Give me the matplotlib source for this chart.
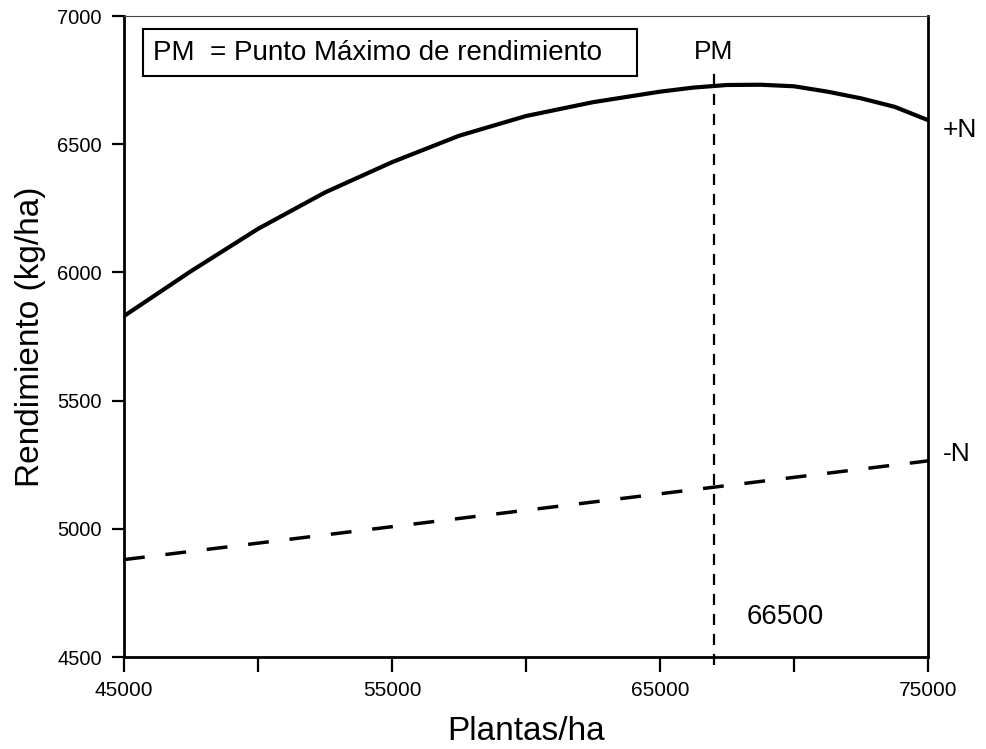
#!/bin/python3

# Libraries
import matplotlib.pyplot as plt
from matplotlib.patches import Rectangle

plt.rcParams['font.family'] = ['Liberation Sans', 'DejaVu Sans']

# Data
plantas = [45000, 47500, 50000, 52500, 55000, 57500, 60000, 62500,
           65000, 66250, 67500, 68750, 70000, 71250, 72500, 73750, 75000]
rend_con_n = [5830, 6005, 6170, 6312, 6430, 6533, 6610, 6664,
              6705, 6721, 6731, 6732, 6726, 6705, 6679, 6646, 6594]

plantas_sin_n = [45000, 75000]
rend_sin_n = [4880, 5265]

pm_x = 67000          # position of the vertical line on the plot
pm_top = 6778
pm_label = '66500'

x_ticks = [45000, 50000, 55000, 60000, 65000, 70000, 75000]
x_tick_labels = ['45000', '', '55000', '', '65000', '', '75000']
y_ticks = [4500, 5000, 5500, 6000, 6500, 7000]

####################################################################################################
# Line Plot
####################################################################################################

fig, ax = plt.subplots(figsize=(9.86, 7.49), dpi=100)
fig.subplots_adjust(left=0.1258, right=0.9412, bottom=0.1228, top=0.9786)

ax.plot(plantas, rend_con_n, color='black', linewidth=3.0,
        solid_capstyle='butt', solid_joinstyle='round')
ax.plot(plantas_sin_n, rend_sin_n, color='black', linewidth=2.5,
        dashes=(6.0, 6.0), dash_capstyle='butt')
ax.plot([pm_x, pm_x], [4470, pm_top], color='black', linewidth=1.6,
        dashes=(5, 4), clip_on=False)

ax.set(xlim=(45000, 75000), ylim=(4500, 7000))
ax.set_xticks(x_ticks)
ax.set_xticklabels(x_tick_labels, fontsize=15)
ax.set_yticks(y_ticks)
ax.set_yticklabels([str(v) for v in y_ticks], fontsize=14.5)
ax.tick_params(axis='x', direction='out', length=11, width=1.6, pad=6)
ax.tick_params(axis='y', direction='out', length=9, width=1.6, pad=7)

for side in ['left', 'bottom', 'right']:
    ax.spines[side].set_linewidth(2.0)
ax.spines['top'].set_linewidth(0.8)
ax.spines['top'].set_color('#444444')

ax.set_xlabel('Plantas/ha', fontsize=24, labelpad=12)
ax.set_ylabel('Rendimiento (kg/ha)', fontsize=24, labelpad=8)

# legend box
ax.add_patch(Rectangle((0.0236, 0.906), 0.6144, 0.0733, transform=ax.transAxes,
                       fill=False, edgecolor='black', linewidth=1.5))
ax.text(0.036, 0.942, 'PM  = Punto Máximo de rendimiento', transform=ax.transAxes,
        fontsize=20, va='center', ha='left')

# annotations
ax.text(pm_x, 0.944, 'PM', transform=ax.get_xaxis_transform(),
        fontsize=19, ha='center', va='center')
ax.text(75550, 6555, '+N', fontsize=19, ha='left', va='center', clip_on=False)
ax.text(75550, 5292, '-N', fontsize=19, ha='left', va='center', clip_on=False)
ax.text(68240, 4656, pm_label, fontsize=20, ha='left', va='center')

plt.savefig('out.png', dpi=100)
